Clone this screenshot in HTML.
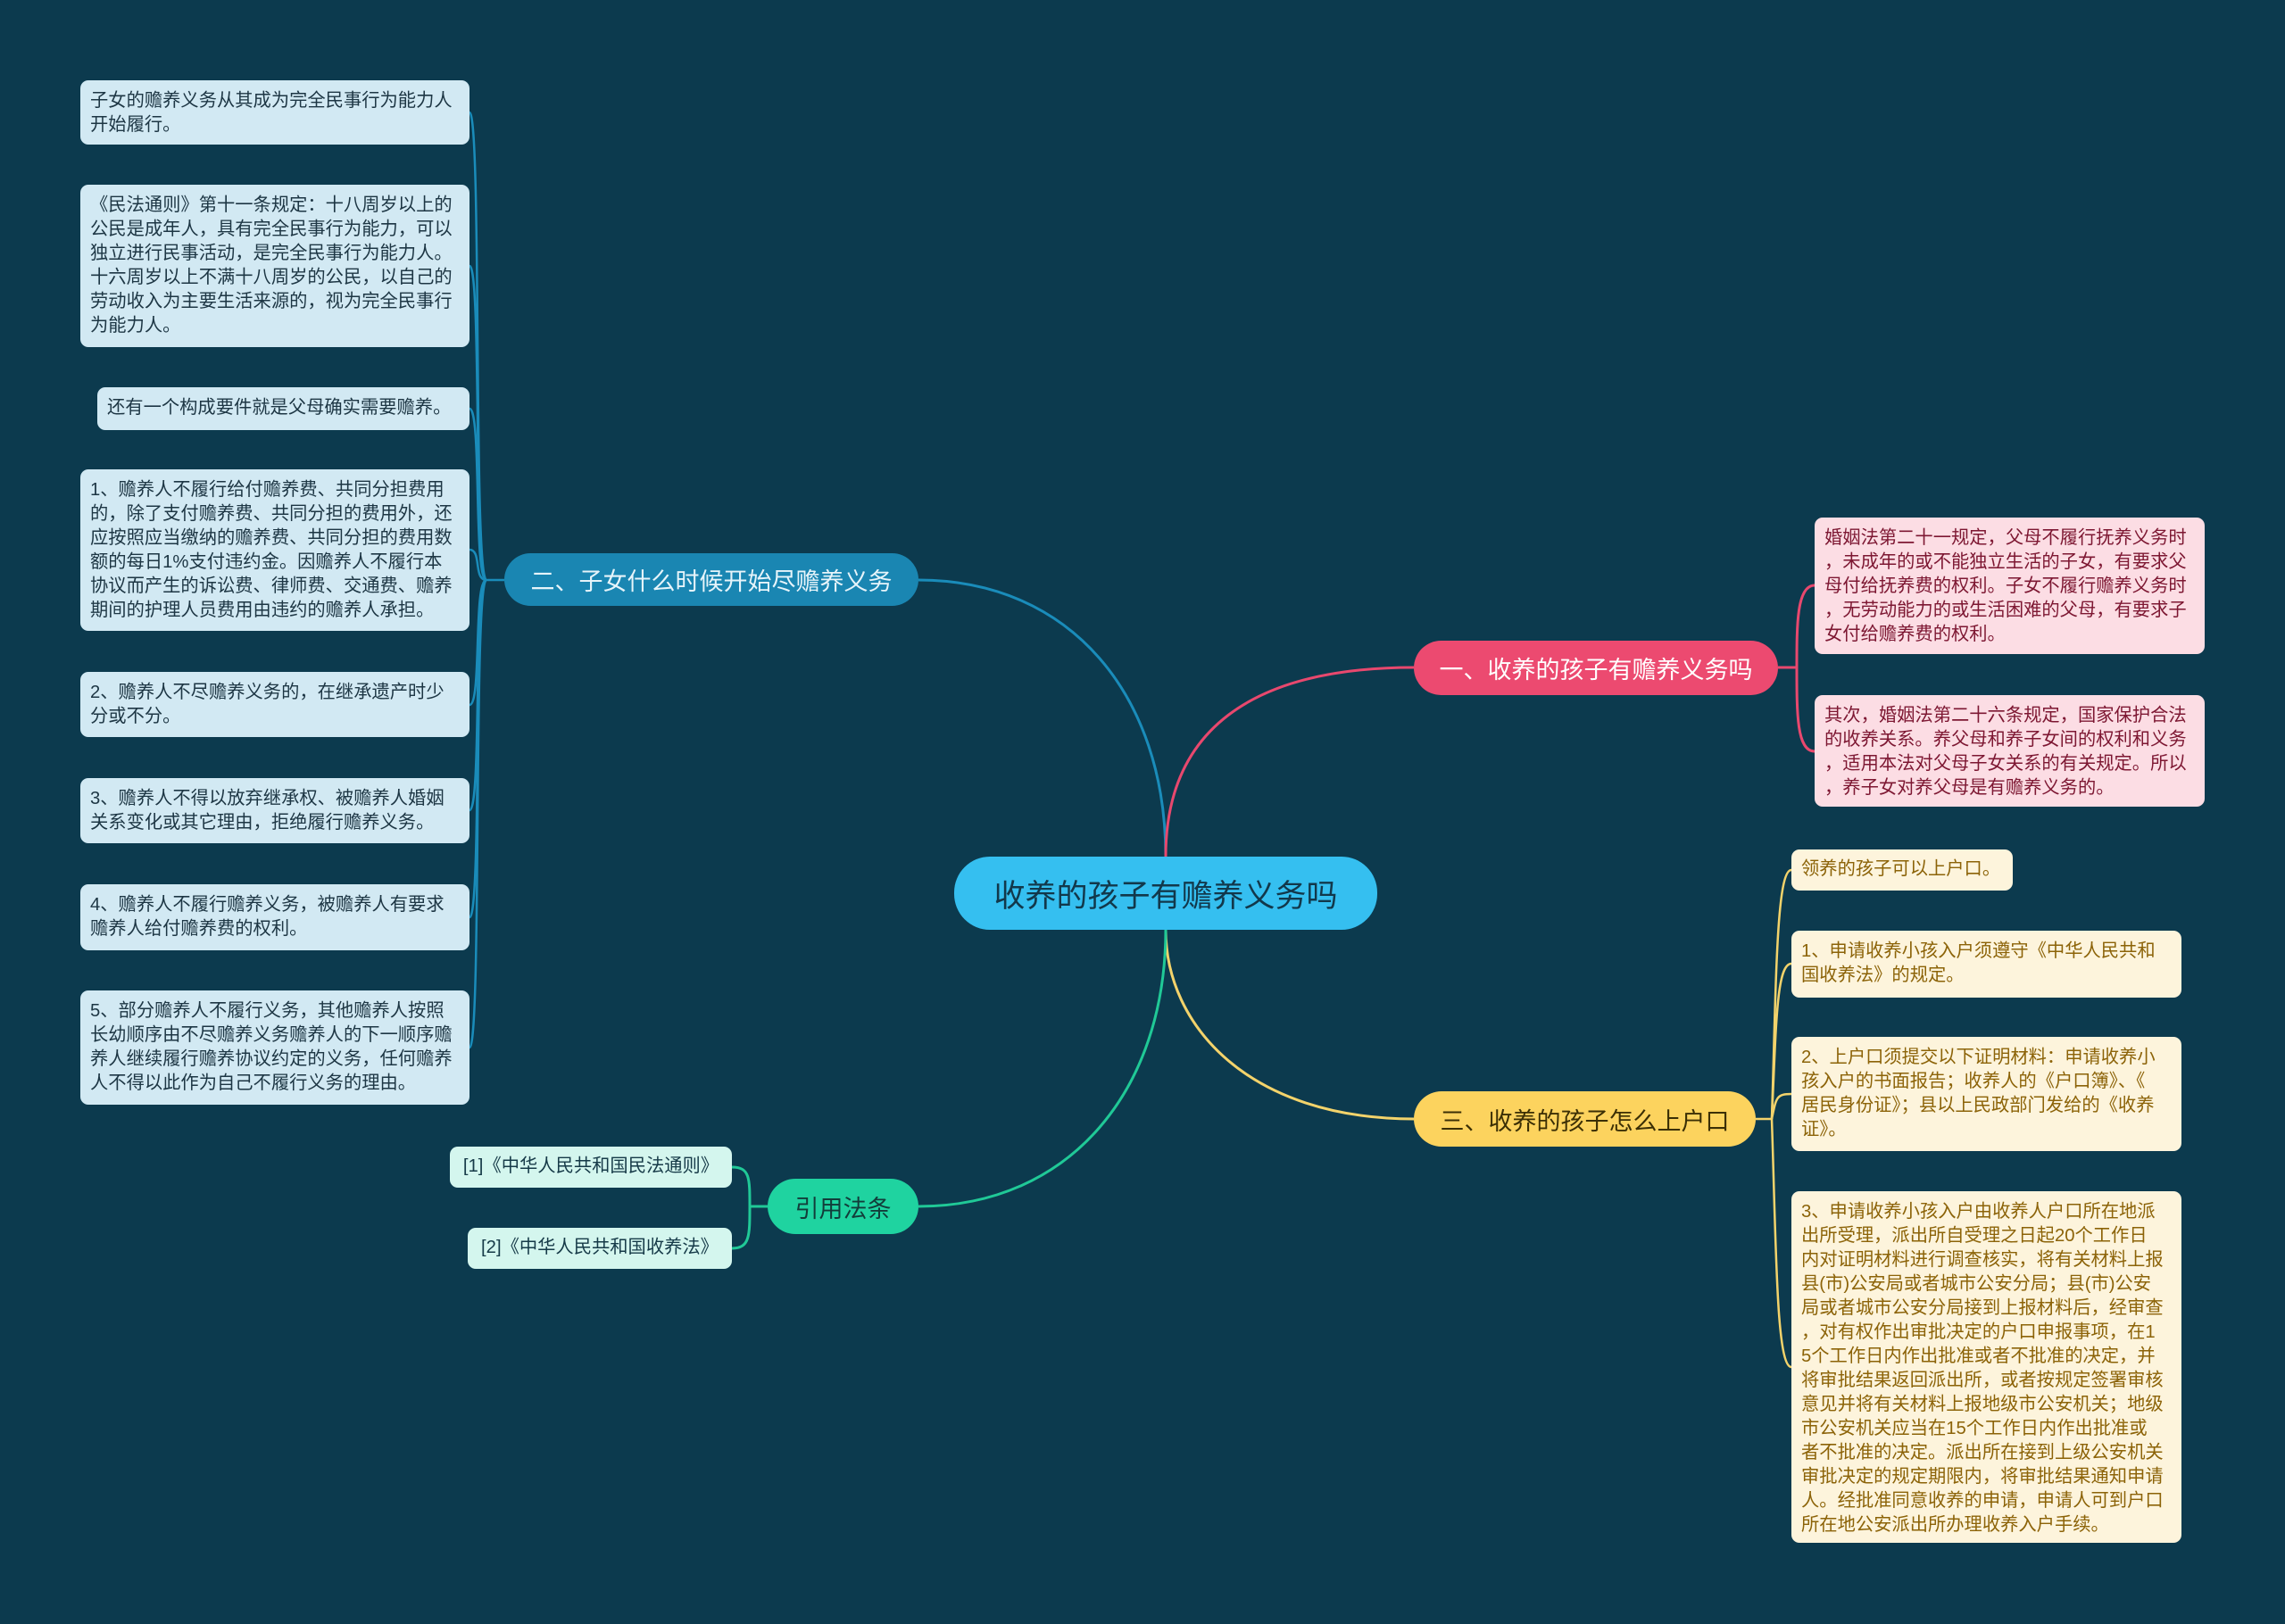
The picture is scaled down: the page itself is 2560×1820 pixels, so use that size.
<!DOCTYPE html>
<html><head><meta charset="utf-8"><style>
body{margin:0;width:2560px;height:1820px;background:#0c3a4e;position:relative;overflow:hidden;font-family:"Liberation Sans","Noto Sans CJK SC",sans-serif}
.b{position:absolute;box-sizing:border-box;border-radius:9px;font-size:20.3px;line-height:27px;padding:10px 11px;white-space:nowrap;overflow:hidden}
.l{background:#d2e9f3;color:#1d3644}
.p{background:#fcdde4;color:#7d1732}
.y{background:#fdf4dc;color:#8c6308}
.c{background:#d4f6ee;color:#163a48;text-align:center}
.n{position:absolute;box-sizing:border-box;border-radius:40px;display:flex;align-items:center;justify-content:center;white-space:nowrap}
svg{position:absolute;left:0;top:0}
</style></head><body>
<svg width="2560" height="1820" fill="none" stroke-width="3">
<path d="M1306 960 C1306 780 1200 650 1029 650" stroke="#1a8cba"/>
<path d="M1306 960 C1306 820 1400 748 1584 748" stroke="#e8486e"/>
<path d="M1306 1042 C1306 1150 1400 1254 1584 1254" stroke="#f3d36b"/>
<path d="M1306 1042 C1306 1220 1200 1352 1029 1352" stroke="#20c997"/>
<g stroke="#1a8cba" stroke-width="2.5">
<path d="M565 650 L545 650"/>
<path d="M545 650 C530 650 540 126 526 126"/>
<path d="M545 650 C530 650 540 298 526 298"/>
<path d="M545 650 C530 650 540 458 526 458"/>
<path d="M545 650 C530 650 540 616 526 616"/>
<path d="M545 650 C530 650 540 790 526 790"/>
<path d="M545 650 C530 650 540 908 526 908"/>
<path d="M545 650 C530 650 540 1028 526 1028"/>
<path d="M545 650 C530 650 540 1174 526 1174"/>
</g>
<g stroke="#e8486e" stroke-width="3">
<path d="M1992 748 L2013 748"/>
<path d="M2013 748 C2013 700 2013 656 2033 656"/>
<path d="M2013 748 C2013 800 2013 842 2033 842"/>
</g>
<g stroke="#f3d36b" stroke-width="2.5">
<path d="M1967 1254 L1985 1254"/>
<path d="M1985 1254 C1990 1100 1990 975 2007 975"/>
<path d="M1985 1254 C1990 1150 1990 1080 2007 1080"/>
<path d="M1985 1254 C1990 1230 1990 1226 2007 1226"/>
<path d="M1985 1254 C1990 1400 1990 1532 2007 1532"/>
</g>
<g stroke="#20c997" stroke-width="3">
<path d="M860 1352 L840 1352"/>
<path d="M840 1352 C840 1320 840 1308 820 1308"/>
<path d="M840 1352 C840 1385 840 1399 820 1399"/>
</g>
</svg>

<div class="b l" style="left:90px;top:90px;width:436px;height:72px">子女的赡养义务从其成为完全民事行为能力人<br>开始履行。</div>
<div class="b l" style="left:90px;top:207px;width:436px;height:182px">《民法通则》第十一条规定：十八周岁以上的<br>公民是成年人，具有完全民事行为能力，可以<br>独立进行民事活动，是完全民事行为能力人。<br>十六周岁以上不满十八周岁的公民，以自己的<br>劳动收入为主要生活来源的，视为完全民事行<br>为能力人。</div>
<div class="b l" style="left:109px;top:434px;width:417px;height:48px;padding-top:10px">还有一个构成要件就是父母确实需要赡养。</div>
<div class="b l" style="left:90px;top:526px;width:436px;height:181px">1、赡养人不履行给付赡养费、共同分担费用<br>的，除了支付赡养费、共同分担的费用外，还<br>应按照应当缴纳的赡养费、共同分担的费用数<br>额的每日1%支付违约金。因赡养人不履行本<br>协议而产生的诉讼费、律师费、交通费、赡养<br>期间的护理人员费用由违约的赡养人承担。</div>
<div class="b l" style="left:90px;top:753px;width:436px;height:73px">2、赡养人不尽赡养义务的，在继承遗产时少<br>分或不分。</div>
<div class="b l" style="left:90px;top:872px;width:436px;height:73px">3、赡养人不得以放弃继承权、被赡养人婚姻<br>关系变化或其它理由，拒绝履行赡养义务。</div>
<div class="b l" style="left:90px;top:991px;width:436px;height:74px">4、赡养人不履行赡养义务，被赡养人有要求<br>赡养人给付赡养费的权利。</div>
<div class="b l" style="left:90px;top:1110px;width:436px;height:128px">5、部分赡养人不履行义务，其他赡养人按照<br>长幼顺序由不尽赡养义务赡养人的下一顺序赡<br>养人继续履行赡养协议约定的义务，任何赡养<br>人不得以此作为自己不履行义务的理由。</div>

<div class="b p" style="left:2033px;top:580px;width:437px;height:153px">婚姻法第二十一规定，父母不履行抚养义务时<br>，未成年的或不能独立生活的子女，有要求父<br>母付给抚养费的权利。子女不履行赡养义务时<br>，无劳动能力的或生活困难的父母，有要求子<br>女付给赡养费的权利。</div>
<div class="b p" style="left:2033px;top:779px;width:437px;height:125px">其次，婚姻法第二十六条规定，国家保护合法<br>的收养关系。养父母和养子女间的权利和义务<br>，适用本法对父母子女关系的有关规定。所以<br>，养子女对养父母是有赡养义务的。</div>

<div class="b y" style="left:2007px;top:952px;width:248px;height:46px;padding-top:9px">领养的孩子可以上户口。</div>
<div class="b y" style="left:2007px;top:1043px;width:437px;height:75px">1、申请收养小孩入户须遵守《中华人民共和<br>国收养法》的规定。</div>
<div class="b y" style="left:2007px;top:1162px;width:437px;height:128px">2、上户口须提交以下证明材料：申请收养小<br>孩入户的书面报告；收养人的《户口簿》、《<br>居民身份证》；县以上民政部门发给的《收养<br>证》。</div>
<div class="b y" style="left:2007px;top:1335px;width:437px;height:394px">3、申请收养小孩入户由收养人户口所在地派<br>出所受理，派出所自受理之日起20个工作日<br>内对证明材料进行调查核实，将有关材料上报<br>县(市)公安局或者城市公安分局；县(市)公安<br>局或者城市公安分局接到上报材料后，经审查<br>，对有权作出审批决定的户口申报事项，在1<br>5个工作日内作出批准或者不批准的决定，并<br>将审批结果返回派出所，或者按规定签署审核<br>意见并将有关材料上报地级市公安机关；地级<br>市公安机关应当在15个工作日内作出批准或<br>者不批准的决定。派出所在接到上级公安机关<br>审批决定的规定期限内，将审批结果通知申请<br>人。经批准同意收养的申请，申请人可到户口<br>所在地公安派出所办理收养入户手续。</div>

<div class="b c" style="left:504px;top:1285px;width:316px;height:46px;padding-top:9px">[1]《中华人民共和国民法通则》</div>
<div class="b c" style="left:524px;top:1376px;width:296px;height:46px;padding-top:9px">[2]《中华人民共和国收养法》</div>

<div class="n" style="left:1069px;top:960px;width:474px;height:82px;background:#35bff0;color:#12384b;font-size:35px">收养的孩子有赡养义务吗</div>
<div class="n" style="left:565px;top:620px;width:464px;height:59px;background:#1a86b2;color:#e6f4fa;font-size:27px">二、子女什么时候开始尽赡养义务</div>
<div class="n" style="left:1584px;top:718px;width:408px;height:61px;background:#ec4a70;color:#fff;font-size:27px">一、收养的孩子有赡养义务吗</div>
<div class="n" style="left:1584px;top:1223px;width:383px;height:62px;background:#fcd35e;color:#3b2f05;font-size:27px">三、收养的孩子怎么上户口</div>
<div class="n" style="left:860px;top:1321px;width:169px;height:62px;background:#1fd3a0;color:#123d3a;font-size:27px">引用法条</div>
</body></html>
